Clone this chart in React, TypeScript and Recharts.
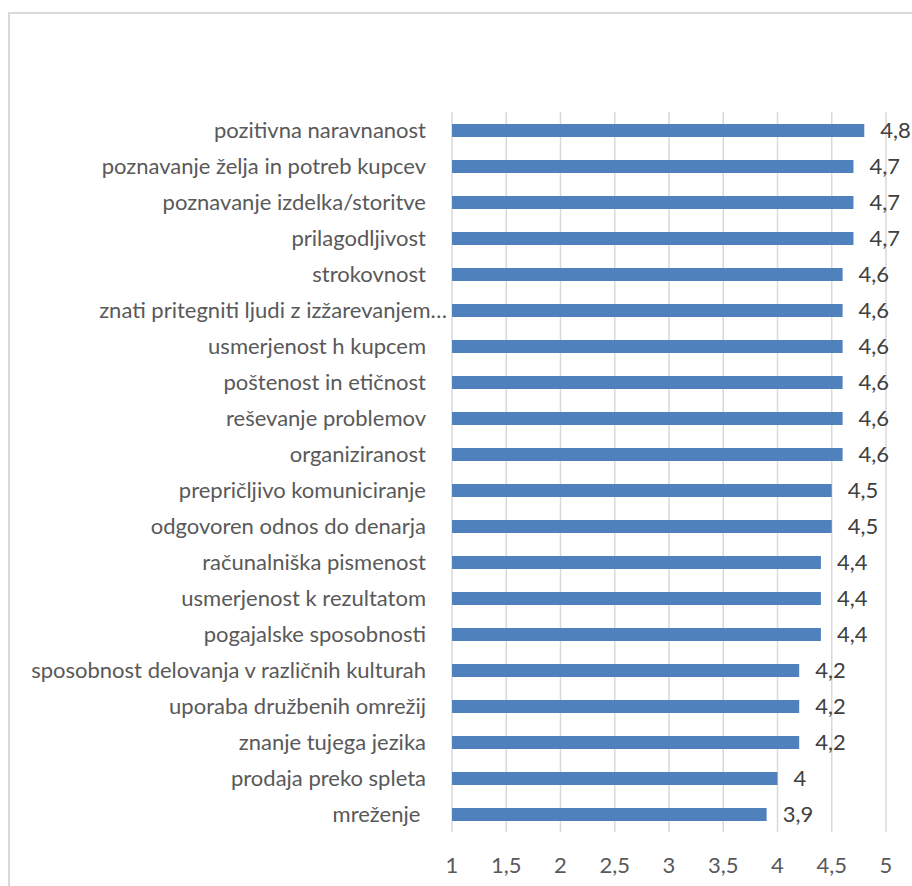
import React from "react";
import {
  BarChart,
  Bar,
  XAxis,
  YAxis,
  CartesianGrid,
  LabelList,
} from "recharts";

const categories = [
  "pozitivna naravnanost",
  "poznavanje želja in potreb kupcev",
  "poznavanje izdelka/storitve",
  "prilagodljivost",
  "strokovnost",
  "znati pritegniti ljudi z izžarevanjem…",
  "usmerjenost h kupcem",
  "poštenost in etičnost",
  "reševanje problemov",
  "organiziranost",
  "prepričljivo komuniciranje",
  "odgovoren odnos do denarja",
  "računalniška pismenost",
  "usmerjenost k rezultatom",
  "pogajalske sposobnosti",
  "sposobnost delovanja v različnih kulturah",
  "uporaba družbenih omrežij",
  "znanje tujega jezika",
  "prodaja preko spleta",
  "mreženje ",
];

const scores = [
  4.8, 4.7, 4.7, 4.7, 4.6, 4.6, 4.6, 4.6, 4.6, 4.6, 4.5, 4.5, 4.4, 4.4, 4.4,
  4.2, 4.2, 4.2, 4, 3.9,
];

const xTicks = [1, 1.5, 2, 2.5, 3, 3.5, 4, 4.5, 5];

const data = categories.map((name, i) => ({ name, score: scores[i] }));

const FONT = "Lato, Carlito, Calibri, sans-serif";
const SIZE = 22;
const fmt = (v: number | string) => String(v).replace(".", ",");

// category labels; truncated names sit a bit closer to the bars
function CategoryTick({ x, y, payload }: any) {
  const text: string = payload.value;
  const shift = text.endsWith("…") ? 3 : 24;
  return (
    <text
      x={x + 6 - shift}
      y={y}
      dy="0.35em"
      textAnchor="end"
      fill="#595959"
      fontSize={SIZE}
      fontFamily={FONT}
      style={{ whiteSpace: "pre" }}
    >
      {text}
    </text>
  );
}

export default function App() {
  return (
    <div
      style={{
        position: "fixed",
        left: 0,
        top: 0,
        width: 912,
        height: 886,
        overflow: "hidden",
        background: "#fff",
      }}
    >
      <div
        style={{
          position: "absolute",
          left: 8,
          top: 12,
          width: 960,
          height: 940,
          borderLeft: "2px solid #d9d9d9",
          borderTop: "2px solid #d9d9d9",
        }}
      />
      <div style={{ position: "absolute", left: 0, top: 0 }}>
        <BarChart
          width={912}
          height={886}
          data={data}
          layout="vertical"
          margin={{ top: 112, right: 26, bottom: 14, left: 0 }}
          barCategoryGap={0}
        >
          <CartesianGrid horizontal={false} stroke="#d9d9d9" strokeWidth={1.5} />
          <XAxis
            type="number"
            domain={[1, 5]}
            ticks={xTicks}
            interval={0}
            axisLine={false}
            tickLine={false}
            tickMargin={19}
            height={40}
            tickFormatter={fmt}
            tick={{ fill: "#595959", fontSize: SIZE, fontFamily: FONT }}
          />
          <YAxis
            type="category"
            dataKey="name"
            width={452}
            interval={0}
            axisLine={false}
            tickLine={false}
            tick={<CategoryTick />}
          />
          <Bar
            dataKey="score"
            fill="#4f81bd"
            barSize={13}
            isAnimationActive={false}
          >
            <LabelList
              dataKey="score"
              position="right"
              offset={16}
              formatter={fmt}
              fill="#404040"
              fontSize={SIZE}
              fontFamily={FONT}
            />
          </Bar>
        </BarChart>
      </div>
    </div>
  );
}
